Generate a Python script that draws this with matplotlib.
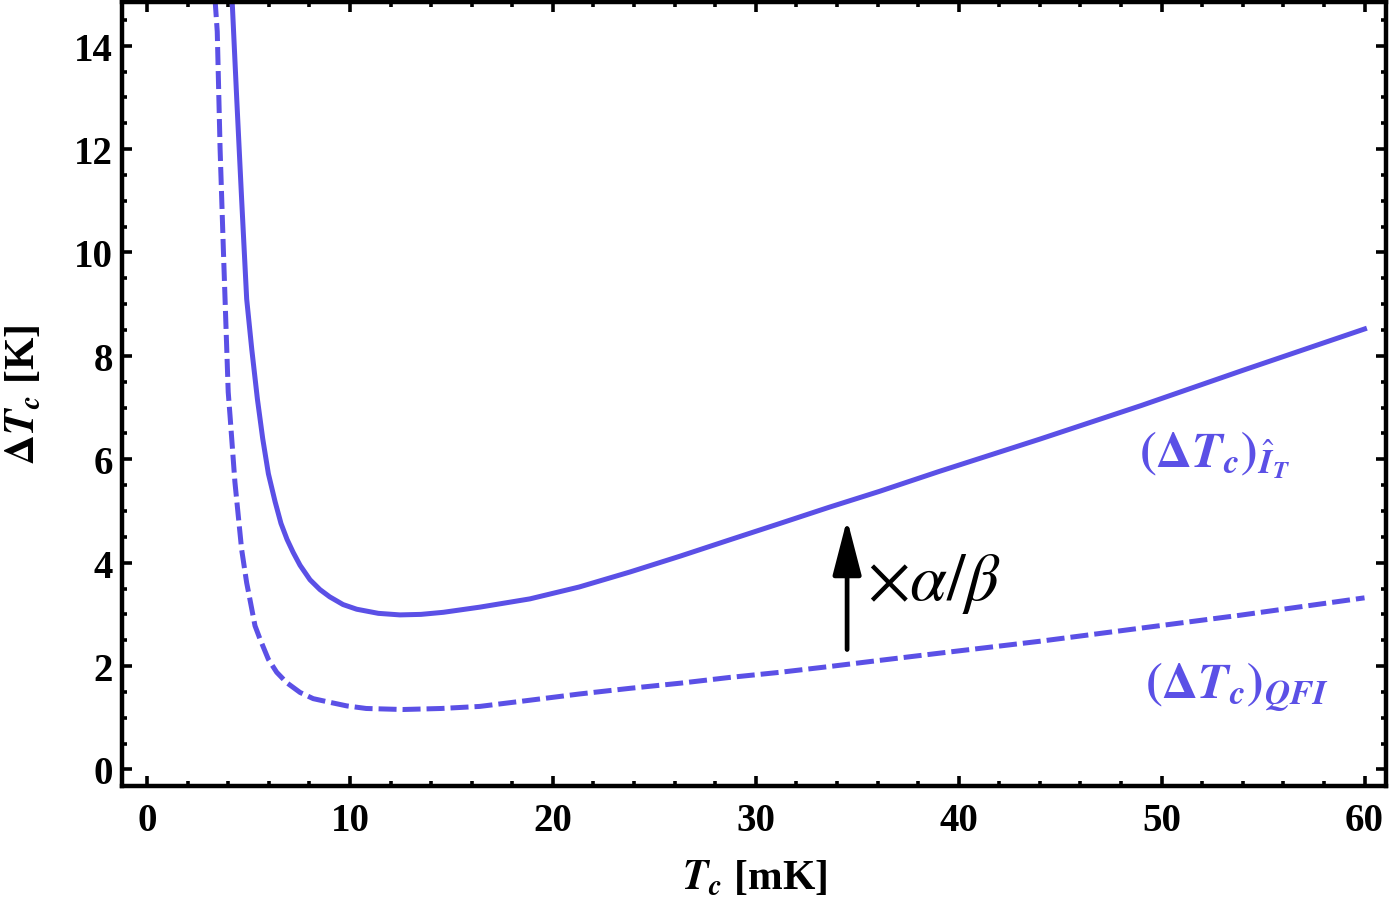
import matplotlib
matplotlib.use("Agg")
import matplotlib.pyplot as plt
from matplotlib.ticker import MultipleLocator

# values
tc_it = [4.19, 4.42, 4.66, 4.91, 5.16, 5.44, 5.7, 5.98, 6.31, 6.6, 6.9, 7.2,
         7.54, 8.03, 8.52, 9.0, 9.66, 10.33, 11.4, 12.46, 13.5, 14.6, 16.4,
         18.87, 21.3, 23.8, 26.3, 28.7, 31.2, 33.6, 36.1, 39.0, 44.0, 49.0,
         54.0, 60.0]
dt_it = [14.9, 12.97, 11.04, 9.10, 8.13, 7.16, 6.4, 5.72, 5.18, 4.76, 4.45, 4.2,
         3.95, 3.67, 3.48, 3.34, 3.19, 3.10, 3.02, 2.99, 3.0, 3.04, 3.14,
         3.30, 3.53, 3.82, 4.13, 4.44, 4.76, 5.07, 5.38, 5.76, 6.39, 7.04,
         7.72, 8.52]

tc_qfi = [3.35, 3.46, 3.6, 3.76, 4.0, 4.09, 4.33, 4.66, 4.91, 5.07, 5.32, 5.57,
          5.98, 6.39, 6.88, 7.54, 8.19, 9.0, 9.84, 10.8, 12.6, 14.5, 16.4,
          18.87, 21.3, 23.8, 26.3, 28.7, 31.2, 33.6, 36.1, 39.06, 44.0, 48.9,
          53.8, 60.0]
dt_qfi = [14.9, 14.27, 12.0, 10.07, 7.3, 6.84, 5.56, 4.26, 3.61, 3.29, 2.78, 2.52,
          2.13, 1.88, 1.68, 1.49, 1.37, 1.30, 1.23, 1.18, 1.16, 1.18, 1.22,
          1.34, 1.46, 1.57, 1.67, 1.78, 1.88, 1.99, 2.11, 2.25, 2.48, 2.73,
          2.98, 3.32]

blue = "#5b50e6"

plt.rcParams["font.family"] = ["Liberation Serif", "DejaVu Serif"]
plt.rcParams["mathtext.fontset"] = "stix"

fig = plt.figure(figsize=(13.92, 9.03), dpi=100)
ax = fig.add_axes([0.088, 0.129, 0.908, 0.868])

ax.plot(tc_it, dt_it, color=blue, lw=3.6, solid_joinstyle="round")
ax.plot(tc_qfi, dt_qfi, color=blue, lw=3.6, dashes=(3.6, 1.2))

ax.set_xlim(-1.21, 61.08)
ax.set_ylim(-0.31, 14.85)

ax.xaxis.set_major_locator(MultipleLocator(10))
ax.xaxis.set_minor_locator(MultipleLocator(2))
ax.yaxis.set_major_locator(MultipleLocator(2))
ax.yaxis.set_minor_locator(MultipleLocator(0.5))

for s in ax.spines.values():
    s.set_linewidth(3.2)
ax.tick_params(which="both", direction="in", top=True, right=True,
               width=2.6, color="k")
ax.tick_params(which="major", length=7)
ax.tick_params(which="minor", length=3.5)
ax.tick_params(axis="x", labelsize=28, pad=12)
ax.tick_params(axis="y", labelsize=28, pad=7)
for lab in ax.get_xticklabels() + ax.get_yticklabels():
    lab.set_fontweight("bold")

ax.set_xlabel(r"$\mathbfit{T_c}$ [mK]", fontsize=30, fontweight="bold", labelpad=14)
ax.set_ylabel(r"$\mathbf{\Delta}\mathbfit{T_c}$ [K]", fontsize=30,
              fontweight="bold", labelpad=22)

ax.text(52.6, 6.1, r"$\mathbf{(\Delta}\mathbfit{T_c}\mathbf{)}_{\hat{\mathbfit{I}}_{\mathbfit{T}}}$",
        color=blue, fontsize=36, ha="center", va="center")
ax.text(53.7, 1.62, r"$\mathbf{(\Delta}\mathbfit{T_c}\mathbf{)}_{\mathbfit{QFI}}$",
        color=blue, fontsize=36, ha="center", va="center")

ax.annotate("", xy=(34.5, 4.84), xytext=(34.5, 2.32),
            arrowprops=dict(arrowstyle="-|>,head_length=0.85,head_width=0.22",
                            lw=3.4, color="k", mutation_scale=40,
                            shrinkA=0, shrinkB=0))
ax.text(35.5, 3.6, r"$\times\alpha/\beta$", fontsize=48,
        ha="left", va="center")

fig.savefig("out.png", dpi=100)
